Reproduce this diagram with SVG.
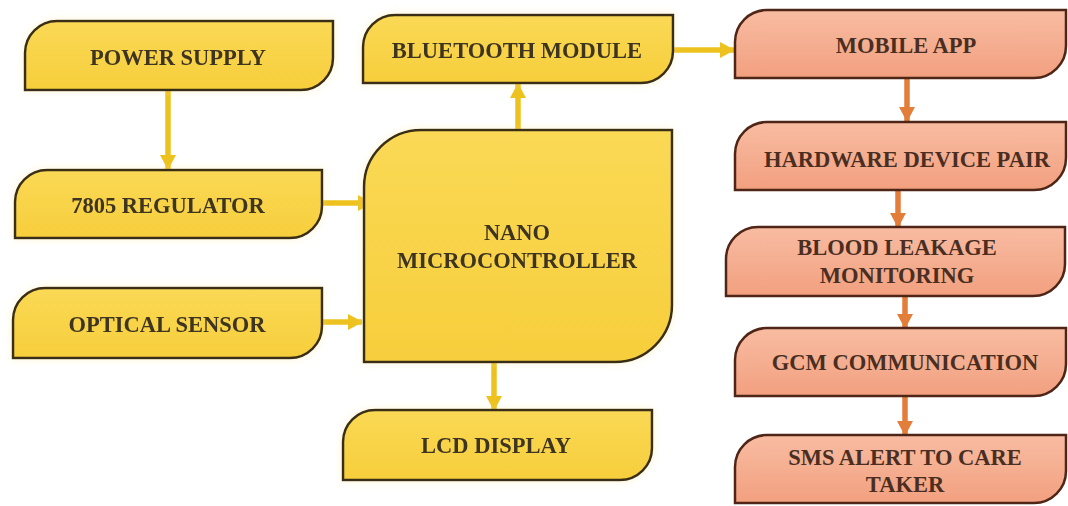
<svg xmlns="http://www.w3.org/2000/svg" width="1068" height="506" viewBox="0 0 1068 506">
  <defs>
    <linearGradient id="gy" x1="0" y1="0" x2="0" y2="1">
      <stop offset="0" stop-color="#FAD955"/>
      <stop offset="1" stop-color="#F7CE3C"/>
    </linearGradient>
    <linearGradient id="gs" x1="0" y1="0" x2="0" y2="1">
      <stop offset="0" stop-color="#F8BCA2"/>
      <stop offset="1" stop-color="#F2A07F"/>
    </linearGradient>
    <filter id="glow" x="-10%" y="-20%" width="120%" height="140%">
      <feGaussianBlur in="SourceAlpha" stdDeviation="4" result="b"/>
      <feFlood flood-color="#F5E08A" flood-opacity="0.35"/>
      <feComposite in2="b" operator="in" result="s"/>
      <feMerge><feMergeNode in="s"/><feMergeNode in="SourceGraphic"/></feMerge>
    </filter>
    <marker id="ay" markerUnits="userSpaceOnUse" markerWidth="18" markerHeight="18" refX="14" refY="9" orient="auto">
      <path d="M0,1 L15,9 L0,17 Z" fill="#EDC21E"/>
    </marker>
    <marker id="ao" markerUnits="userSpaceOnUse" markerWidth="18" markerHeight="18" refX="14" refY="9" orient="auto">
      <path d="M0,1 L15,9 L0,17 Z" fill="#E37E3A"/>
    </marker>
  </defs>
  <style>
    .y { fill: url(#gy); stroke: #3B2E14; stroke-width: 2.5; }
    .s { fill: url(#gs); stroke: #4E2516; stroke-width: 2.5; }
    .t { font-family: "Liberation Serif", "Times New Roman", serif; font-weight: bold; font-size: 22.5px; fill: #3E3420; text-anchor: middle; }
    .ts { fill: #4A2E22; }
    .cy { stroke: #EDC21E; stroke-width: 5.5; fill: none; marker-end: url(#ay); }
    .co { stroke: #E37E3A; stroke-width: 5.5; fill: none; marker-end: url(#ao); }
  </style>
  <rect width="1068" height="506" fill="#FFFFFF"/>

  <g id="connectors">
    <line class="cy" x1="168" y1="91" x2="168" y2="169"/>
    <line class="cy" x1="323" y1="203" x2="372" y2="203"/>
    <line class="cy" x1="323" y1="322" x2="362" y2="322"/>
    <line class="cy" x1="518" y1="130" x2="518" y2="84"/>
    <line class="cy" x1="674" y1="50" x2="734" y2="50"/>
    <line class="cy" x1="494" y1="363" x2="494" y2="410"/>
    <line class="co" x1="907" y1="79" x2="907" y2="121"/>
    <line class="co" x1="898" y1="191" x2="898" y2="227"/>
    <line class="co" x1="905" y1="297" x2="905" y2="328"/>
    <line class="co" x1="905" y1="397" x2="905" y2="435"/>
  </g>

  <g id="power-supply" filter="url(#glow)">
    <path class="y" d="M57,21 H333 V58 A32,32 0 0 1 301,90 H25 V53 A32,32 0 0 1 57,21 Z"/>
    <text class="t" x="178" y="65">POWER SUPPLY</text>
  </g>
  <g id="regulator" filter="url(#glow)">
    <path class="y" d="M47,170 H322 V206 A32,32 0 0 1 290,238 H15 V202 A32,32 0 0 1 47,170 Z"/>
    <text class="t" x="168" y="213">7805 REGULATOR</text>
  </g>
  <g id="optical-sensor" filter="url(#glow)">
    <path class="y" d="M45,288 H322 V326 A32,32 0 0 1 290,358 H13 V320 A32,32 0 0 1 45,288 Z"/>
    <text class="t" x="167" y="332">OPTICAL SENSOR</text>
  </g>
  <g id="bluetooth" filter="url(#glow)">
    <path class="y" d="M395,15 H673 V51 A32,32 0 0 1 641,83 H363 V47 A32,32 0 0 1 395,15 Z"/>
    <text class="t" x="517" y="58">BLUETOOTH MODULE</text>
  </g>
  <g id="nano" filter="url(#glow)">
    <path class="y" d="M421,130 H672 V305 A57,57 0 0 1 615,362 H364 V187 A57,57 0 0 1 421,130 Z"/>
    <text class="t" x="517" y="240">NANO</text>
    <text class="t" x="517" y="268">MICROCONTROLLER</text>
  </g>
  <g id="lcd" filter="url(#glow)">
    <path class="y" d="M375,410 H652 V448 A32,32 0 0 1 620,480 H343 V442 A32,32 0 0 1 375,410 Z"/>
    <text class="t" x="496" y="453">LCD DISPLAY</text>
  </g>

  <g id="mobile-app">
    <path class="s" d="M767,10 H1066 V46 A32,32 0 0 1 1034,78 H735 V42 A32,32 0 0 1 767,10 Z"/>
    <text class="t ts" x="906" y="53">MOBILE APP</text>
  </g>
  <g id="hardware-pair">
    <path class="s" d="M767,122 H1066 V158 A32,32 0 0 1 1034,190 H735 V154 A32,32 0 0 1 767,122 Z"/>
    <text class="t ts" x="907" y="167">HARDWARE DEVICE PAIR</text>
  </g>
  <g id="blood-leakage">
    <path class="s" d="M758,227 H1065 V264 A32,32 0 0 1 1033,296 H726 V259 A32,32 0 0 1 758,227 Z"/>
    <text class="t ts" x="897" y="255">BLOOD LEAKAGE</text>
    <text class="t ts" x="897" y="283">MONITORING</text>
  </g>
  <g id="gcm">
    <path class="s" d="M767,328 H1066 V364 A32,32 0 0 1 1034,396 H735 V360 A32,32 0 0 1 767,328 Z"/>
    <text class="t ts" x="905" y="370">GCM COMMUNICATION</text>
  </g>
  <g id="sms">
    <path class="s" d="M767,435 H1066 V471 A32,32 0 0 1 1034,503 H735 V467 A32,32 0 0 1 767,435 Z"/>
    <text class="t ts" x="905" y="465">SMS ALERT TO CARE</text>
    <text class="t ts" x="905" y="492">TAKER</text>
  </g>
</svg>
